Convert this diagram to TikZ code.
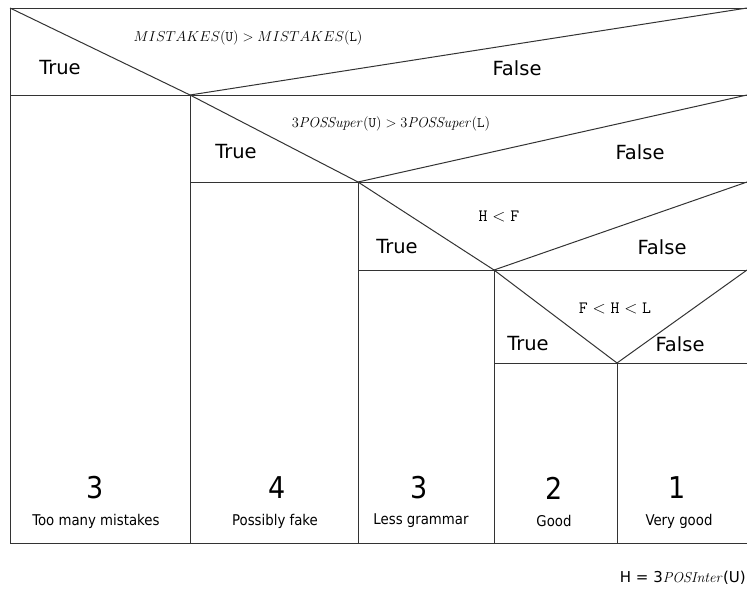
\documentclass[tikz,border=0pt]{standalone}
\usepackage[no-math]{fontspec}
\setmainfont{DejaVu Sans}
\newfontfamily\narrowfont{DejaVu Sans Condensed}
\usepackage{tikz}
\usetikzlibrary{positioning}
\definecolor{rule}{HTML}{333333}

\begin{document}
\begin{tikzpicture}[x=1pt,y=-1pt,
    cell/.style={draw=rule, line width=1pt},
    branch/.style={font=\fontsize{19.5}{22}\selectfont, inner sep=0pt},
    test/.style={font=\fontsize{16.5}{18}\selectfont, inner sep=0pt},
    score/.style={font=\narrowfont\fontsize{30}{32}\selectfont, inner sep=0pt},
    verdict/.style={font=\narrowfont\fontsize{14.8}{16}\selectfont, inner sep=0pt}
  ]
  \useasboundingbox (0,0) rectangle (747,590);
  % corners and apexes of the nested tests
  \coordinate (tl) at (10,8);
  \coordinate (tr) at (747,8);
  \coordinate (bl) at (10,543);
  \coordinate (br) at (747,543);
  \coordinate (a1) at (190,95);
  \coordinate (a2) at (358,182);
  \coordinate (a3) at (494,270);
  \coordinate (a4) at (617,363);
  \coordinate (r1) at (747,95);
  \coordinate (r2) at (747,182);
  \coordinate (r3) at (747,270);
  \draw[cell] (tl) rectangle (br);
  \draw[cell] (tl |- a1) -- (r1);
  \draw[cell] (a1 |- a2) -- (r2);
  \draw[cell] (a2 |- a3) -- (r3);
  \draw[cell] (a3 |- a4) -- (br |- a4);
  \draw[cell] (a1) -- (a1 |- bl);
  \draw[cell] (a2) -- (a2 |- bl);
  \draw[cell] (a3) -- (a3 |- bl);
  \draw[cell] (a4) -- (a4 |- bl);
  \draw[cell] (tl) -- (a1) -- (tr);
  \draw[cell] (a1) -- (a2) -- (r1);
  \draw[cell] (a2) -- (a3) -- (r2);
  \draw[cell] (a3) -- (a4) -- (r3);
  % tests
  \node[test, font=\fontsize{14.8}{16}\selectfont] (t1) at (248,38) {$MISTAKES(\mathtt{U}) > MISTAKES(\mathtt{L})$};
  \node[branch] (y1) at (60,68) {True};
  \node[branch] (n1) at (517,68) {False};
  \node[test, font=\fontsize{14.2}{16}\selectfont] (t2) at (391,124) {$3\mathit{POSSuper}(\mathtt{U}) > 3\mathit{POSSuper}(\mathtt{L})$};
  \node[branch] (y2) at (236,152) {True};
  \node[branch] (n2) at (640,152) {False};
  \node[test] (t3) at (499,216) {$\mathtt{H} < \mathtt{F}$};
  \node[branch] (y3) at (397,247) {True};
  \node[branch] (n3) at (662,247) {False};
  \node[test] (t4) at (615,308) {$\mathtt{F} < \mathtt{H} < \mathtt{L}$};
  \node[branch] (y4) at (528,344) {True};
  \node[branch] (n4) at (680,344) {False};
  % outcomes
  \node[score] (s1) at (95,488) {3};
  \node[verdict] (v1) at (96,521) {Too many mistakes};
  \node[score] (s2) at (277,488) {4};
  \node[verdict] (v2) at (275,521) {Possibly fake};
  \node[score] (s3) at (419,488) {3};
  \node[verdict] (v3) at (421,521) {Less grammar};
  \node[score] (s4) at (554,488) {2};
  \node[verdict] (v4) at (554,521) {Good};
  \node[score] (s5) at (677,488) {1};
  \node[verdict] (v5) at (679,521) {Very good};
  \node[branch, font=\fontsize{15}{17}\selectfont, anchor=east] (key) at (746,578) {H = 3$\mathit{POSInter}$(U)};
\end{tikzpicture}
\end{document}
